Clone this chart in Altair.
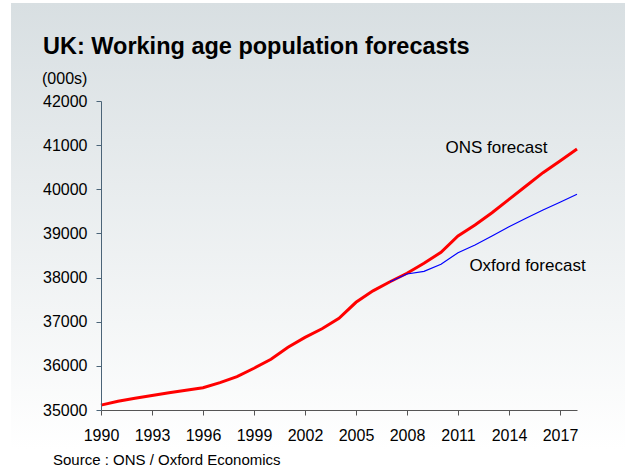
import altair as alt
import pandas as pd

# ---- data ----
years = list(range(1990, 2019))
ons = [35110, 35200, 35265, 35330, 35390, 35445, 35505, 35620, 35755, 35945,
       36150, 36420, 36645, 36840, 37075, 37440, 37700, 37906, 38097, 38323,
       38573, 38942, 39191, 39470, 39773, 40075, 40376, 40641, 40913]
oxford_years = list(range(2007, 2019))
oxford = [37906, 38081, 38142, 38300, 38563, 38738, 38942, 39153, 39343,
          39531, 39706, 39887]
x_ticks = [1990, 1993, 1996, 1999, 2002, 2005, 2008, 2011, 2014, 2017]
y_ticks = [35000, 36000, 37000, 38000, 39000, 40000, 41000, 42000]
ann_text = ["ONS forecast", "Oxford forecast"]
ann_year = [2010.26, 2011.67]
ann_value = [40822, 38149]

title = "UK: Working age population forecasts"
unit = "(000s)"
source = "Source : ONS / Oxford Economics"

FONT = "Liberation Sans"

df_ons = pd.DataFrame({"year": years, "value": ons})
df_ox = pd.DataFrame({"year": oxford_years, "value": oxford})
df_ann = pd.DataFrame({"text": ann_text, "year": ann_year, "value": ann_value})
one = pd.DataFrame({"a": [0]})

xscale = alt.Scale(domain=[1990, 2018], nice=False, zero=False)
yscale = alt.Scale(domain=[35000, 42000], nice=False, zero=False)

xaxis = alt.Axis(values=x_ticks, format="d", title=None, grid=False,
                 labelFont=FONT, labelFontSize=16, labelColor="#000000",
                 labelPadding=12, tickSize=5, tickColor="#555555",
                 domainColor="#555555", labelFlush=False, labelAngle=0,
                 zindex=1)
yaxis = alt.Axis(values=y_ticks, format="d", title=None, grid=False,
                 labelFont=FONT, labelFontSize=16, labelColor="#000000",
                 labelPadding=9, tickSize=5, tickColor="#4b6478",
                 domainColor="#4b6478", zindex=1)

gradient = alt.LinearGradient(
    gradient="linear",
    stops=[alt.GradientStop(color="#d8dfe2", offset=0),
           alt.GradientStop(color="#ffffff", offset=1)],
    x1=0, x2=0, y1=0, y2=1,
)

bg = alt.Chart(one).mark_rect(fill=gradient, stroke=None).encode(
    x=alt.value(-90), x2=alt.value(524), y=alt.value(-98), y2=alt.value(349)
)

ons_line = alt.Chart(df_ons).mark_line(color="#ff0000", strokeWidth=3).encode(
    x=alt.X("year:Q", scale=xscale, axis=xaxis),
    y=alt.Y("value:Q", scale=yscale, axis=yaxis),
)
ox_line = alt.Chart(df_ox).mark_line(color="#0000ff", strokeWidth=1.2).encode(
    x=alt.X("year:Q", scale=xscale),
    y=alt.Y("value:Q", scale=yscale),
)
ann = alt.Chart(df_ann).mark_text(
    align="left", baseline="alphabetic", font=FONT, fontSize=17, color="#000000"
).encode(
    x=alt.X("year:Q", scale=xscale),
    y=alt.Y("value:Q", scale=yscale),
    text="text:N",
)

title_mark = alt.Chart(one).mark_text(
    text=title, align="left", baseline="alphabetic", font=FONT, fontSize=23.5,
    fontWeight="bold", color="#000000"
).encode(x=alt.value(-58), y=alt.value(-47))

unit_mark = alt.Chart(one).mark_text(
    text=unit, align="left", baseline="alphabetic", font=FONT, fontSize=16,
    color="#000000"
).encode(x=alt.value(-59), y=alt.value(-17))

source_mark = alt.Chart(one).mark_text(
    text=source, align="left", baseline="alphabetic", font=FONT, fontSize=15,
    color="#000000"
).encode(x=alt.value(-48), y=alt.value(364))

chart = alt.layer(bg, ons_line, ox_line, ann, title_mark, unit_mark, source_mark).properties(
    width=476, height=309,
    padding={"left": 101, "top": 101, "right": 48, "bottom": 60},
    autosize=alt.AutoSizeParams(type="none"),
    background="#ffffff",
).configure_view(stroke=None)

chart.save("out.html", embed_options={"renderer": "svg", "actions": False})
